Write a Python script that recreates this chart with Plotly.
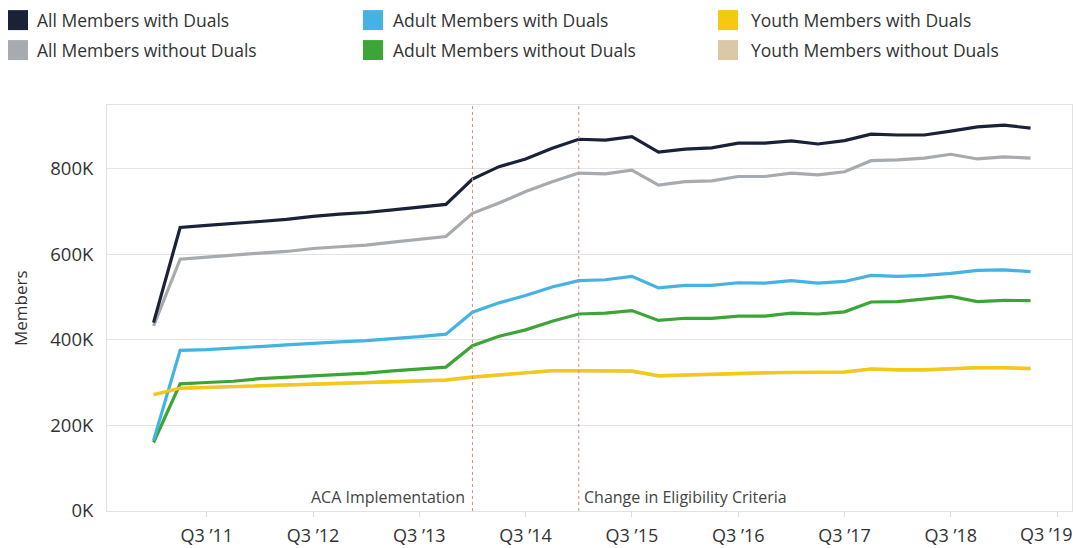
import plotly.graph_objects as go

# ---- data (members, in thousands) ----
years = [2011]*4 + [2012]*4 + [2013]*4 + [2014]*4 + [2015]*4 + [2016]*4 + [2017]*4 + [2018]*4 + [2019]*2
qtrs = [1, 2, 3, 4]*8 + [1, 2]

all_with = [440, 662, 667, 671, 676, 681, 688, 693, 697, 703, 709, 716,
            775, 804, 822, 847, 868, 866, 874, 838, 845, 848, 859, 859,
            864, 857, 865, 880, 878, 878, 887, 897, 901, 894]
all_without = [432, 588, 593, 598, 602, 606, 613, 617, 621, 628, 634, 641,
               695, 719, 746, 769, 789, 787, 796, 761, 769, 771, 781, 781,
               789, 785, 792, 818, 820, 824, 833, 822, 827, 824]
adult_with = [165, 375, 377, 380, 384, 388, 392, 395, 398, 402, 407, 413,
              464, 486, 503, 523, 538, 540, 548, 521, 527, 527, 533, 532,
              538, 532, 536, 550, 548, 550, 555, 562, 563, 559]
adult_without = [160, 297, 300, 303, 309, 312, 316, 319, 322, 327, 331, 336,
                 386, 408, 423, 443, 460, 462, 468, 445, 450, 450, 455, 455,
                 462, 460, 465, 488, 489, 495, 501, 489, 492, 491]
youth_with = [272, 287, 289, 291, 293, 295, 297, 298, 300, 302, 304, 306,
              313, 318, 324, 328, 328, 327, 327, 316, 318, 319, 322, 323,
              324, 324, 325, 332, 330, 330, 332, 335, 335, 333]
youth_without = [271, 286, 288, 290, 292, 294, 296, 297, 299, 301, 303, 305,
                 312, 317, 323, 327, 327, 326, 326, 315, 317, 318, 321, 322,
                 323, 323, 324, 331, 329, 329, 331, 334, 334, 332]

tick_years = [2011, 2012, 2013, 2014, 2015, 2016, 2017, 2018, 2019]
tick_labels = ["Q3 \u201911", "Q3 \u201912", "Q3 \u201913", "Q3 \u201914", "Q3 \u201915",
               "Q3 \u201916", "Q3 \u201917", "Q3 \u201918", "Q3 \u201919"]
y_ticks = [0, 200, 400, 600, 800]
y_tick_labels = ["0K", "200K", "400K", "600K", "800K"]

event_names = ["ACA Implementation", "Change in Eligibility Criteria"]
event_years = [2014, 2015]
event_qtrs = [1, 1]

series = [
    ("All Members with Duals", all_with, "#1a2238"),
    ("All Members without Duals", all_without, "#a7aaae"),
    ("Adult Members with Duals", adult_with, "#43b3e3"),
    ("Adult Members without Duals", adult_without, "#3ba636"),
    ("Youth Members with Duals", youth_with, "#f5c912"),
    ("Youth Members without Duals", youth_without, "#dac8a6"),
]

x = [y + (q - 1) / 4 for y, q in zip(years, qtrs)]

fig = go.Figure()
for idx in [5, 3, 2, 1, 0, 4]:
    name, vals, col = series[idx]
    fig.add_trace(go.Scatter(x=x, y=vals, mode="lines", name=name,
                             line=dict(color=col, width=3.2), showlegend=False,
                             hovertemplate="%{y}K<extra>" + name + "</extra>"))

FONT = "Open Sans, Noto Sans, sans-serif"

# plot-area geometry in pixels (used to place the manual legend)
W, H = 1077, 548
PL, PR, PT, PB = 107, 1072, 105, 511.5

# manual legend (square swatches), 3 columns x 2 rows
legend_layout = [(0, 0), (0, 1), (1, 0), (1, 1), (2, 0), (2, 1)]
col_swatch = [8, 363, 718]
col_text = [35, 391, 749]
row_y = [20, 50]
for (name, vals, col), (c, r) in zip(series, legend_layout):
    cy = row_y[r]
    fig.add_shape(type="rect", xref="paper", yref="paper",
                  x0=(col_swatch[c] - PL) / (PR - PL), x1=(col_swatch[c] + 20 - PL) / (PR - PL),
                  y0=(PB - (cy + 10)) / (PB - PT), y1=(PB - (cy - 10)) / (PB - PT),
                  fillcolor=col, line=dict(width=0))
    fig.add_annotation(xref="paper", yref="paper",
                       x=(col_text[c] - PL) / (PR - PL), y=(PB - cy) / (PB - PT),
                       text=name, showarrow=False, xanchor="left", yanchor="middle",
                       font=dict(family=FONT, size=17.5, color="#333333"))

for k, (nm, ey, eq) in enumerate(zip(event_names, event_years, event_qtrs)):
    ex = ey + (eq - 1) / 4
    fig.add_vline(x=ex, line=dict(color="#cf8f80", width=1, dash="dot"))
    fig.add_annotation(x=ex, y=(PB - 497) / (PB - PT), xref="x", yref="paper", text=nm,
                       showarrow=False,
                       xanchor="right" if k == 0 else "left", xshift=-5 if k == 0 else 3,
                       yanchor="middle", font=dict(family=FONT, size=16, color="#444444"))

# the last tick label sits at the right page edge: draw it as a text nudged inward
shown_tick_labels = tick_labels[:-1] + [""]
fig.add_annotation(x=tick_years[-1] + 0.5, xref="x", y=0, yref="paper",
                   text=tick_labels[-1], showarrow=False, xanchor="right", xshift=18,
                   yanchor="middle", yshift=-22.5,
                   font=dict(family=FONT, size=18, color="#333333"))

fig.update_layout(
    width=W, height=H,
    margin=dict(l=PL, r=W - PR, t=PT, b=H - PB, autoexpand=False),
    plot_bgcolor="white", paper_bgcolor="white",
    font=dict(family=FONT, color="#333333"),
    showlegend=False,
    xaxis=dict(range=[2010.562, 2019.64], tickvals=[y + 0.5 for y in tick_years],
               ticktext=shown_tick_labels, showgrid=False, zeroline=False,
               showline=True, mirror=True, linecolor="#e2e2e2", linewidth=1,
               ticks="outside", ticklen=5, tickcolor="#dddddd",
               ticklabelstandoff=3, ticklabeloverflow="allow",
               tickfont=dict(family=FONT, size=18, color="#333333")),
    yaxis=dict(range=[0, 948], tickvals=y_ticks, ticktext=y_tick_labels,
               showgrid=True, gridcolor="#e4e4e4", gridwidth=1, zeroline=False,
               showline=True, mirror=True, linecolor="#e2e2e2", linewidth=1,
               ticks="", ticklabelstandoff=9,
               tickfont=dict(family=FONT, size=18.5, color="#333333")),
)
fig.add_annotation(xref="paper", yref="paper", x=(20 - PL) / (PR - PL), y=0.5,
                   text="Members", textangle=-90, showarrow=False,
                   xanchor="center", yanchor="middle",
                   font=dict(family=FONT, size=17, color="#333333"))

fig.write_html("out.html", config={"displayModeBar": False},
               post_script="document.body.style.margin='0';document.body.style.overflow='hidden';")
